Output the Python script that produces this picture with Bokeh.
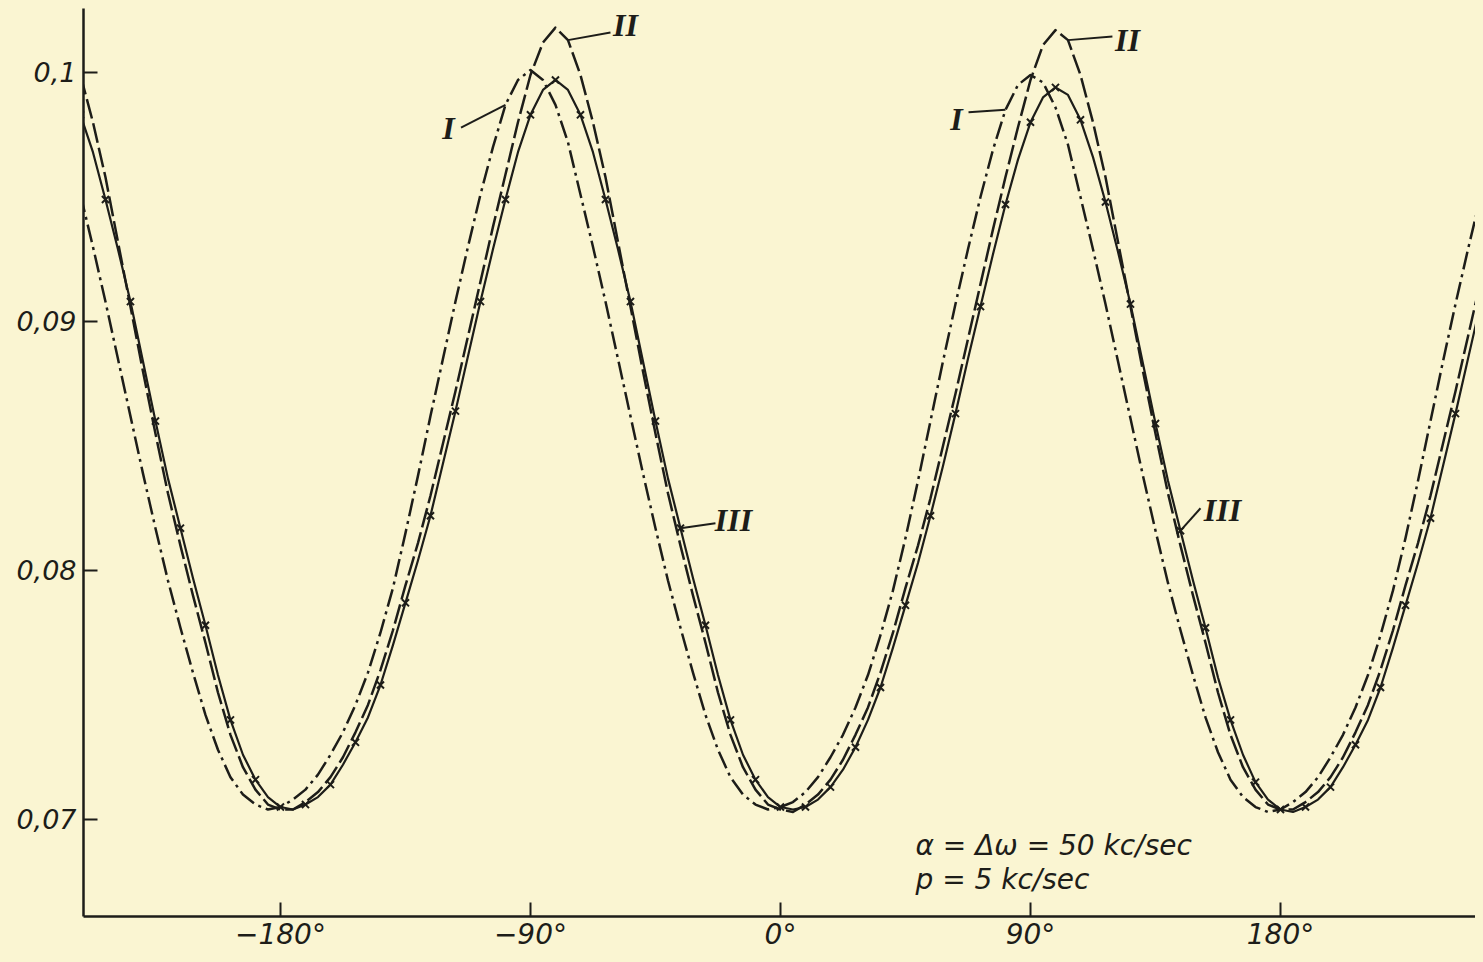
from bokeh.plotting import figure
from bokeh.models import Range1d, FixedTicker, Label, Arrow
from bokeh.embed import file_html
from bokeh.resources import INLINE

BG = "#FAF5D2"
INK = "#1d1d19"

# phase angle (degrees)
phase_deg = [
    -252.0, -247.5, -243.0, -238.5, -234.0, -229.5, -225.0, -220.5, -216.0, -211.5,
    -207.0, -202.5, -198.0, -193.5, -189.0, -184.5, -180.0, -175.5, -171.0, -166.5,
    -162.0, -157.5, -153.0, -148.5, -144.0, -139.5, -135.0, -130.5, -126.0, -121.5,
    -117.0, -112.5, -108.0, -103.5, -99.0, -94.5, -90.0, -85.5, -81.0, -76.5,
    -72.0, -67.5, -63.0, -58.5, -54.0, -49.5, -45.0, -40.5, -36.0, -31.5,
    -27.0, -22.5, -18.0, -13.5, -9.0, -4.5, 0.0, 4.5, 9.0, 13.5,
    18.0, 22.5, 27.0, 31.5, 36.0, 40.5, 45.0, 49.5, 54.0, 58.5,
    63.0, 67.5, 72.0, 76.5, 81.0, 85.5, 90.0, 94.5, 99.0, 103.5,
    108.0, 112.5, 117.0, 121.5, 126.0, 130.5, 135.0, 139.5, 144.0, 148.5,
    153.0, 157.5, 162.0, 166.5, 171.0, 175.5, 180.0, 184.5, 189.0, 193.5,
    198.0, 202.5, 207.0, 211.5, 216.0, 220.5, 225.0, 229.5, 234.0, 238.5,
    243.0, 247.5, 252.0]

# curve I (dash-dot)
curve_I = [
    0.0951, 0.0930, 0.0908, 0.0885, 0.0862, 0.0839, 0.0817, 0.0796, 0.0777, 0.0759,
    0.0742, 0.0728, 0.0717, 0.0710, 0.0706, 0.0704,
    0.0705, 0.0708, 0.0712, 0.0718, 0.0726, 0.0735, 0.0746, 0.0759, 0.0775, 0.0793,
    0.0815, 0.0838, 0.0862, 0.0885, 0.0908, 0.0930, 0.0951, 0.0970, 0.0987, 0.0997,
    0.1001, 0.0997, 0.0987, 0.0972, 0.0951, 0.0930, 0.0908, 0.0885, 0.0862, 0.0839,
    0.0817, 0.0796, 0.0777, 0.0759, 0.0742, 0.0728, 0.0717, 0.0710, 0.0706, 0.0704,
    0.0705, 0.0707, 0.0711, 0.0717, 0.0725, 0.0734, 0.0745, 0.0758, 0.0774, 0.0792,
    0.0813, 0.0836, 0.0860, 0.0884, 0.0907, 0.0929, 0.0950, 0.0969, 0.0985, 0.0995,
    0.0999, 0.0996, 0.0986, 0.0971, 0.0950, 0.0929, 0.0907, 0.0884, 0.0861, 0.0838,
    0.0816, 0.0795, 0.0776, 0.0758, 0.0741, 0.0727, 0.0716, 0.0709, 0.0705, 0.0703,
    0.0704, 0.0707, 0.0711, 0.0717, 0.0725, 0.0734, 0.0745, 0.0758, 0.0774, 0.0792,
    0.0813, 0.0836, 0.0860, 0.0884, 0.0907, 0.0929, 0.0950]

# curve II (dashed)
curve_II = [
    0.0999, 0.0980, 0.0958, 0.0932, 0.0906, 0.0880, 0.0855, 0.0831, 0.0810, 0.0790,
    0.0771, 0.0751, 0.0734, 0.0721, 0.0712, 0.0706,
    0.0704, 0.0704, 0.0707, 0.0711, 0.0717, 0.0725, 0.0735, 0.0746, 0.0760, 0.0776,
    0.0794, 0.0811, 0.0830, 0.0851, 0.0872, 0.0894, 0.0916, 0.0938, 0.0959, 0.0980,
    0.0999, 0.1012, 0.1018, 0.1013, 0.0999, 0.0980, 0.0958, 0.0932, 0.0906, 0.0880,
    0.0855, 0.0831, 0.0810, 0.0790, 0.0771, 0.0751, 0.0734, 0.0721, 0.0712, 0.0706,
    0.0704, 0.0703, 0.0706, 0.0710, 0.0716, 0.0724, 0.0734, 0.0745, 0.0759, 0.0775,
    0.0793, 0.0810, 0.0829, 0.0850, 0.0871, 0.0893, 0.0915, 0.0937, 0.0958, 0.0978,
    0.0997, 0.1011, 0.1017, 0.1013, 0.0999, 0.0980, 0.0958, 0.0932, 0.0906, 0.0880,
    0.0855, 0.0831, 0.0810, 0.0790, 0.0771, 0.0751, 0.0734, 0.0721, 0.0712, 0.0706,
    0.0704, 0.0704, 0.0707, 0.0711, 0.0717, 0.0725, 0.0735, 0.0746, 0.0760, 0.0776,
    0.0794, 0.0811, 0.0830, 0.0851, 0.0872, 0.0894, 0.0916]

# curve III (solid, with x marks)
curve_III = [
    0.0983, 0.0968, 0.0949, 0.0929, 0.0908, 0.0884, 0.0860, 0.0837, 0.0817, 0.0797,
    0.0778, 0.0758, 0.0740, 0.0726, 0.0716, 0.0709,
    0.0705, 0.0704, 0.0706, 0.0709, 0.0714, 0.0722, 0.0731, 0.0741, 0.0754, 0.0770,
    0.0787, 0.0804, 0.0822, 0.0843, 0.0864, 0.0886, 0.0908, 0.0929, 0.0949, 0.0968,
    0.0983, 0.0993, 0.0997, 0.0993, 0.0983, 0.0968, 0.0949, 0.0929, 0.0908, 0.0884,
    0.0860, 0.0837, 0.0817, 0.0797, 0.0778, 0.0758, 0.0740, 0.0726, 0.0716, 0.0709,
    0.0705, 0.0704, 0.0705, 0.0708, 0.0713, 0.0720, 0.0729, 0.0740, 0.0753, 0.0769,
    0.0786, 0.0803, 0.0822, 0.0842, 0.0863, 0.0885, 0.0906, 0.0927, 0.0947, 0.0965,
    0.0980, 0.0990, 0.0994, 0.0991, 0.0981, 0.0966, 0.0948, 0.0928, 0.0907, 0.0883,
    0.0859, 0.0836, 0.0816, 0.0796, 0.0777, 0.0757, 0.0740, 0.0726, 0.0715, 0.0708,
    0.0704, 0.0703, 0.0705, 0.0708, 0.0713, 0.0721, 0.0730, 0.0740, 0.0753, 0.0769,
    0.0786, 0.0803, 0.0821, 0.0842, 0.0863, 0.0885, 0.0907]

x_ticks = [-180, -90, 0, 90, 180]
x_tick_labels = ["\u2212180\u00b0", "\u221290\u00b0", "0\u00b0", "90\u00b0", "180\u00b0"]
y_ticks = [0.07, 0.08, 0.09, 0.1]
y_tick_labels = ["0,07", "0,08", "0,09", "0,1"]

p = figure(width=1467, height=946, output_backend="svg", toolbar_location=None,
           x_range=Range1d(-250.9, 250.2), y_range=Range1d(0.066104, 0.10257),
           min_border_left=75, min_border_right=0, min_border_top=0,
           min_border_bottom=38)
p.background_fill_color = BG
p.border_fill_color = BG
p.outline_line_color = None
p.xgrid.visible = False
p.ygrid.visible = False

for ax in (p.xaxis[0], p.yaxis[0]):
    ax.axis_line_width = 2.5
    ax.axis_line_color = INK
    ax.major_tick_line_width = 2
    ax.major_tick_line_color = INK
    ax.major_tick_in = 14
    ax.major_tick_out = 0
    ax.minor_tick_line_color = None
    ax.major_label_text_font = "DejaVu Sans"
    ax.major_label_text_font_style = "italic"
    ax.major_label_text_color = INK

p.xaxis.ticker = FixedTicker(ticks=x_ticks)
p.xaxis.major_label_overrides = dict(zip(x_ticks, x_tick_labels))
p.xaxis.major_label_standoff = 1
p.xaxis.major_label_text_font_size = "28px"
p.yaxis.ticker = FixedTicker(ticks=y_ticks)
p.yaxis.major_label_overrides = dict(zip(y_ticks, y_tick_labels))
p.yaxis.major_label_standoff = 7
p.yaxis.major_label_text_font_size = "27px"

p.line(phase_deg, curve_I, line_color=INK, line_width=2.5, line_dash="18 5 3 5",
       line_join="round")
p.line(phase_deg, curve_II, line_color=INK, line_width=2.5, line_dash="20 5",
       line_join="round")
p.line(phase_deg, curve_III, line_color=INK, line_width=2.2, line_join="round")
p.scatter(phase_deg[::2], curve_III[::2], marker="x", size=10, line_width=2,
          line_color=INK)

# curve labels with leader lines
def curve_label(text, tx, ty, lx, ly, idx, curve):
    p.add_layout(Arrow(end=None, x_start=phase_deg[idx], y_start=curve[idx],
                       x_end=lx, y_end=ly, line_width=2, line_color=INK))
    p.add_layout(Label(x=tx, y=ty, text=text, text_font="Liberation Serif",
                       text_font_style="bold italic", text_font_size="32px",
                       text_align="center", text_baseline="middle",
                       text_color=INK))

curve_label("I", -119.5, 0.09779, -115.0, 0.09779, 34, curve_I)
curve_label("II", -55.8, 0.10189, -61.2, 0.10161, 39, curve_II)
curve_label("III", -16.9, 0.08201, -23.4, 0.08190, 48, curve_III)
curve_label("I", 63.4, 0.09815, 67.7, 0.09840, 74, curve_I)
curve_label("II", 124.9, 0.10129, 119.5, 0.10145, 79, curve_II)
curve_label("III", 159.1, 0.08241, 151.2, 0.08250, 88, curve_III)

for txt, yy in (("\u03b1 = \u0394\u03c9 = 50 kc/sec", 0.06896), ("p = 5 kc/sec", 0.06759)):
    p.add_layout(Label(x=48.6, y=yy, text=txt, text_font="DejaVu Sans",
                       text_font_style="italic", text_font_size="28px",
                       text_align="left", text_baseline="middle",
                       text_color=INK))

html = file_html(p, INLINE)
html = html.replace(
    "</head>",
    "<style>html{background:%s;margin:0;padding:0;}"
    "body{background:%s;margin:8px !important;padding:0;overflow:hidden;}</style></head>"
    % (BG, BG), 1)
open("out.html", "w").write(html)
